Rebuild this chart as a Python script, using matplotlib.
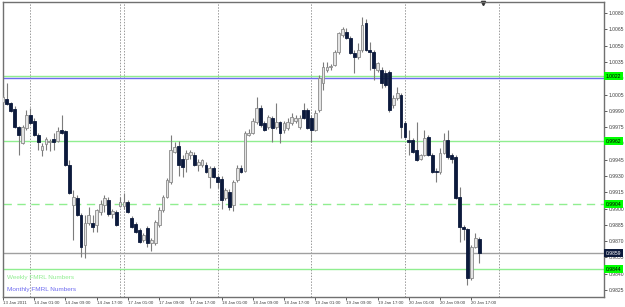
import matplotlib
matplotlib.use("Agg")
import matplotlib.pyplot as plt
import matplotlib.transforms as mtransforms
import numpy as np

# ---- data (H1 candles) ----
opens = [0.9998,1.0001,0.9997,0.9992,0.9975,0.9960,0.9974,0.9986,0.9981,0.9968,
         0.9954,0.9959,0.9961,0.9964,0.9962,0.9972,0.9971,0.9940,0.9903,0.9910,
         0.9894,0.9866,0.9887,0.9887,0.9885,0.9897,0.9903,0.9908,0.9895,0.9897,
         0.9902,0.9902,0.9906,0.9891,0.9886,0.9880,0.9871,0.9882,0.9868,0.9868,
         0.9885,0.9899,0.9911,0.9924,0.9952,0.9958,0.9946,0.9946,0.9949,0.9949,
         0.9940,0.9940,0.9940,0.9929,0.9937,0.9929,0.9927,0.9910,0.9915,0.9903,
         0.9926,0.9937,0.9935,0.9968,0.9970,0.9980,0.9993,0.9979,0.9975,0.9983,
         0.9975,0.9980,0.9972,0.9974,0.9979,0.9981,0.9975,0.9991,0.9991,0.9983,
         0.9972,0.9991,1.0016,1.0028,1.0030,1.0032,1.0044,1.0060,1.0063,1.0057,
         1.0043,1.0040,1.0046,1.0071,1.0046,1.0044,1.0028,1.0028,1.0025,1.0026,
         0.9995,1.0002,1.0005,0.9979,0.9963,0.9963,0.9954,0.9946,0.9949,0.9966,
         0.9949,0.9935,0.9934,0.9951,0.9963,0.9949,0.9947,0.9911,0.9883,0.9881,
         0.9836,0.9865,0.9872]
highs = [1.0005,1.0016,0.9998,0.9994,0.9976,0.9977,0.9991,0.9993,0.9983,0.9970,
         0.9960,0.9966,0.9964,0.9970,0.9975,0.9986,0.9972,0.9945,0.9917,0.9912,
         0.9896,0.9894,0.9901,0.9894,0.9900,0.9908,0.9912,0.9911,0.9900,0.9899,
         0.9911,0.9914,0.9908,0.9893,0.9888,0.9882,0.9877,0.9884,0.9873,0.9889,
         0.9901,0.9912,0.9928,0.9968,0.9961,0.9962,0.9949,0.9954,0.9954,0.9952,
         0.9946,0.9946,0.9943,0.9939,0.9939,0.9931,0.9930,0.9919,0.9918,0.9926,
         0.9940,0.9940,0.9971,0.9973,0.9983,1.0003,0.9995,0.9981,0.9986,0.9985,
         0.9997,0.9981,0.9981,0.9983,0.9988,0.9986,0.9986,0.9997,0.9993,0.9986,
         0.9991,1.0023,1.0035,1.0035,1.0033,1.0046,1.0063,1.0067,1.0066,1.0059,
         1.0046,1.0052,1.0076,1.0075,1.0053,1.0046,1.0035,1.0030,1.0028,1.0028,
         1.0005,1.0012,1.0006,0.9981,0.9972,0.9965,0.9980,0.9950,0.9972,0.9968,
         0.9951,0.9937,0.9956,0.9970,0.9972,0.9951,0.9949,0.9920,0.9885,0.9882,
         0.9866,0.9877,0.9874]
lows = [0.9996,0.9995,0.9989,0.9974,0.9949,0.9959,0.9972,0.9978,0.9967,0.9954,
        0.9948,0.9954,0.9953,0.9954,0.9961,0.9969,0.9939,0.9913,0.9871,0.9893,
        0.9855,0.9854,0.9885,0.9878,0.9878,0.9894,0.9897,0.9893,0.9891,0.9884,
        0.9901,0.9900,0.9896,0.9882,0.9877,0.9868,0.9869,0.9865,0.9861,0.9866,
        0.9883,0.9897,0.9910,0.9923,0.9951,0.9930,0.9929,0.9934,0.9946,0.9939,
        0.9935,0.9938,0.9933,0.9919,0.9928,0.9919,0.9900,0.9908,0.9899,0.9898,
        0.9924,0.9933,0.9934,0.9967,0.9969,0.9978,0.9975,0.9971,0.9973,0.9961,
        0.9973,0.9960,0.9970,0.9972,0.9977,0.9979,0.9973,0.9982,0.9973,0.9961,
        0.9971,0.9989,1.0009,1.0026,1.0028,1.0031,1.0042,1.0058,1.0056,1.0042,
        1.0025,1.0038,1.0044,1.0045,1.0028,1.0018,1.0026,1.0011,1.0012,0.9989,
        0.9993,1.0000,0.9965,0.9965,0.9949,0.9951,0.9944,0.9945,0.9948,0.9948,
        0.9933,0.9924,0.9932,0.9950,0.9946,0.9942,0.9909,0.9869,0.9871,0.9830,
        0.9834,0.9864,0.9850]
closes = [1.0003,0.9996,0.9990,0.9975,0.9968,0.9975,0.9986,0.9979,0.9968,0.9961,
          0.9958,0.9964,0.9962,0.9961,0.9971,0.9970,0.9940,0.9914,0.9911,0.9894,
          0.9865,0.9887,0.9894,0.9883,0.9899,0.9904,0.9910,0.9895,0.9898,0.9885,
          0.9906,0.9906,0.9897,0.9883,0.9878,0.9869,0.9876,0.9868,0.9871,0.9888,
          0.9899,0.9911,0.9926,0.9954,0.9957,0.9940,0.9938,0.9951,0.9952,0.9940,
          0.9943,0.9945,0.9934,0.9937,0.9929,0.9924,0.9908,0.9917,0.9901,0.9924,
          0.9937,0.9934,0.9970,0.9970,0.9981,0.9993,0.9977,0.9972,0.9984,0.9974,
          0.9980,0.9970,0.9979,0.9980,0.9984,0.9983,0.9983,0.9983,0.9974,0.9972,
          0.9988,1.0020,1.0030,1.0030,1.0031,1.0044,1.0062,1.0065,1.0057,1.0043,
          1.0040,1.0046,1.0069,1.0046,1.0044,1.0029,1.0034,1.0016,1.0014,0.9991,
          1.0002,1.0006,0.9975,0.9966,0.9961,0.9952,0.9945,0.9949,0.9965,0.9949,
          0.9934,0.9934,0.9951,0.9963,0.9947,0.9946,0.9910,0.9883,0.9881,0.9836,
          0.9865,0.9873,0.9859]

weekly_levels = [1.0022, 0.9962, 0.9904, 0.9844]
weekly_styles = ["solid", "solid", "dashed", "solid"]
monthly_level = 1.0020
last_price = 0.9859

y_ticks = [1.0080, 1.0065, 1.0050, 1.0035, 1.0020, 1.0005, 0.9990, 0.9975, 0.9960,
           0.9945, 0.9930, 0.9915, 0.9900, 0.9885, 0.9870, 0.9855, 0.9840, 0.9825]
x_tick_idx = [0, 8, 16, 24, 32, 40, 48, 56, 64, 72, 80, 88, 96, 104, 112, 120]
x_tick_labels = ["13 Jan 2011", "14 Jan 01:00", "14 Jan 09:00", "14 Jan 17:00",
                 "17 Jan 01:00", "17 Jan 09:00", "17 Jan 17:00", "18 Jan 01:00",
                 "18 Jan 09:00", "18 Jan 17:00", "19 Jan 01:00", "19 Jan 09:00",
                 "19 Jan 17:00", "20 Jan 01:00", "20 Jan 09:00", "20 Jan 17:00"]
separator_idx = [7, 30, 31, 55, 79, 103, 127]

FONT = "Liberation Sans"

# ---- figure ----
fig = plt.figure(figsize=(6.25, 3.07), dpi=100)
fig.patch.set_facecolor("white")
ax = fig.add_axes([3/625, 1-297/307, 601/625, 295/307])
ax.set_facecolor("white")

o = np.array(opens); h = np.array(highs); l = np.array(lows); c = np.array(closes)
idx = np.arange(len(o))
bull = c >= o
bear_col = "#0c1a3c"
bull_face = "#e4e4e4"
bull_edge = "#8a8a8a"
wick_col = "#7c7c7c"

ax.vlines(idx, l, h, color=wick_col, linewidth=0.8, zorder=3)
bottoms = np.minimum(o, c)
heights = np.maximum(np.abs(c - o), 0.00006)
ax.bar(idx[bull], heights[bull], bottom=bottoms[bull], width=0.72,
       facecolor=bull_face, edgecolor=bull_edge, linewidth=0.6, zorder=4)
ax.bar(idx[~bull], heights[~bull], bottom=bottoms[~bull], width=0.72,
       facecolor=bear_col, edgecolor=bear_col, linewidth=0.6, zorder=4)

# horizontal levels
for lv, st in zip(weekly_levels, weekly_styles):
    ls = (0, (6, 4)) if st == "dashed" else "-"
    ax.axhline(lv, color="#90ee90", linewidth=1.0, linestyle=ls, zorder=2)
ax.axhline(monthly_level, color="#6f6cf0", linewidth=1.0, zorder=2)
ax.axhline(last_price, color="#a0a0a0", linewidth=1.0, zorder=2)

# day separators
for s in separator_idx:
    ax.axvline(s, color="#9a9a9a", linewidth=0.7, linestyle=(0, (1.5, 1.5)), zorder=1)

ax.set_xlim(0.13, 154.0)
ax.set_ylim(0.98185, 1.00902)

# axes styling
for sp in ax.spines.values():
    sp.set_color("#707070")
    sp.set_linewidth(1.0)

ax.yaxis.tick_right()
ax.set_yticks(y_ticks)
ax.set_yticklabels([f"{v:.4f}" for v in y_ticks], fontfamily=FONT)
ax.tick_params(axis="y", direction="out", length=2, width=0.6, pad=1.2,
               labelsize=3.6, colors="#404040")
ax.set_xticks(x_tick_idx)
ax.set_xticklabels(x_tick_labels, fontfamily=FONT)
ax.tick_params(axis="x", direction="out", length=2, width=0.6, pad=1,
               labelsize=3.2, colors="#404040")
for lab in ax.get_xticklabels():
    lab.set_ha("left")

# price tags on the right
trans = mtransforms.blended_transform_factory(ax.transAxes, ax.transData)
for lv in weekly_levels:
    ax.text(1.003, lv, f"{lv:.4f}", transform=trans, ha="left", va="center",
            fontsize=3.6, fontfamily=FONT, color="black", zorder=10, clip_on=False,
            bbox=dict(facecolor="#00ff00", edgecolor="none", pad=1.0))
ax.text(1.003, last_price, f"{last_price:.4f}", transform=trans, ha="left", va="center",
        fontsize=3.6, fontfamily=FONT, color="white", zorder=10, clip_on=False,
        bbox=dict(facecolor="#0c1a3c", edgecolor="none", pad=1.0))

# captions
ax.text(4/601, 1-(278-2)/295, "Weekly FMRL Numbers", transform=ax.transAxes,
        fontsize=4.6, fontfamily=FONT, color="#90ee90", ha="left", va="center")
ax.text(4/601, 1-(289-2)/295, "Monthly FMRL Numbers", transform=ax.transAxes,
        fontsize=4.6, fontfamily=FONT, color="#6f6cf0", ha="left", va="center")

# chart shift marker
ax.plot([0.799], [0.997], marker="v", markersize=3, color="#303030",
        transform=ax.transAxes, clip_on=False)

fig.savefig("out.png", dpi=100, facecolor="white")
